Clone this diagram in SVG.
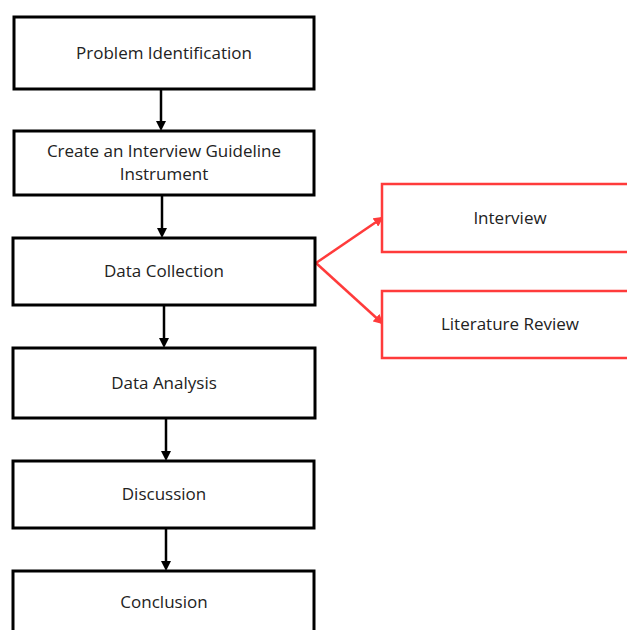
<svg xmlns="http://www.w3.org/2000/svg" width="627" height="630" viewBox="0 0 627 630">
<style>
.box{fill:#fff;stroke:#000;stroke-width:3}
.rbox{fill:#fff;stroke:#ff3b3b;stroke-width:2.5}
.t{font-family:"Open Sans",sans-serif;font-size:17px;fill:#222;text-anchor:middle}
.c{stroke:#000;stroke-width:2.5;fill:none}
.rc{stroke:#ff3b3b;stroke-width:2.5;fill:none}
</style>
<defs>
<marker id="ab" markerWidth="10" markerHeight="10" refX="5" refY="5" orient="auto" markerUnits="userSpaceOnUse"><path d="M0,0 L10,5 L0,10 z" fill="#000"/></marker>
<marker id="ar" markerWidth="10" markerHeight="10" refX="8" refY="5" orient="auto" markerUnits="userSpaceOnUse"><path d="M0,0 L10,5 L0,10 z" fill="#ff3b3b"/></marker>
</defs>
<rect width="627" height="630" fill="#fff"/>
<g id="connectors">
<line class="c" x1="161" y1="89" x2="161" y2="126" marker-end="url(#ab)"/>
<line class="c" x1="162" y1="196" x2="162" y2="233" marker-end="url(#ab)"/>
<line class="c" x1="164" y1="306" x2="164" y2="343" marker-end="url(#ab)"/>
<line class="c" x1="166" y1="419" x2="166" y2="456" marker-end="url(#ab)"/>
<line class="c" x1="166" y1="529" x2="166" y2="566" marker-end="url(#ab)"/>
<line class="rc" x1="316" y1="263" x2="382" y2="218" marker-end="url(#ar)"/>
<line class="rc" x1="316" y1="263" x2="382" y2="323" marker-end="url(#ar)"/>
</g>
<g id="n1"><rect class="box" x="14" y="17" width="300" height="72"/><text class="t" x="164" y="59">Problem Identification</text></g>
<g id="n2"><rect class="box" x="14" y="131" width="300" height="64"/><text class="t" x="164" y="157">Create an Interview Guideline</text><text class="t" x="164" y="180">Instrument</text></g>
<g id="n3"><rect class="box" x="13" y="238" width="302" height="67"/><text class="t" x="164" y="277">Data Collection</text></g>
<g id="n4"><rect class="box" x="13" y="348" width="302" height="70"/><text class="t" x="164" y="389">Data Analysis</text></g>
<g id="n5"><rect class="box" x="13" y="461" width="301" height="67"/><text class="t" x="164" y="500">Discussion</text></g>
<g id="n6"><rect class="box" x="13" y="571" width="301" height="70"/><text class="t" x="164" y="608">Conclusion</text></g>
<g id="n7"><rect class="rbox" x="382" y="184" width="250" height="68"/><text class="t" x="510" y="224">Interview</text></g>
<g id="n8"><rect class="rbox" x="382" y="291" width="250" height="67"/><text class="t" x="510" y="330">Literature Review</text></g>
</svg>
